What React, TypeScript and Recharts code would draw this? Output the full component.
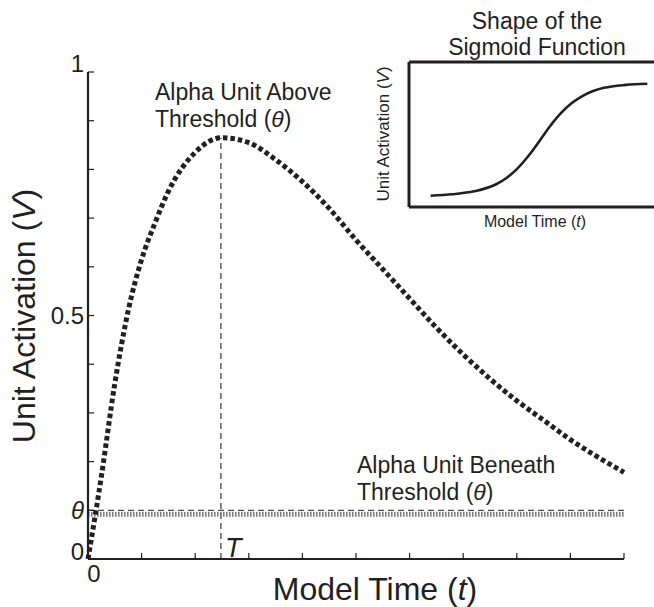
import React from "react";
import {
  ComposedChart,
  LineChart,
  Line,
  XAxis,
  YAxis,
  ReferenceLine,
} from "recharts";

const INK = "#231f20";
const FONT = "'Liberation Sans', Arial, Helvetica, sans-serif";

// main alpha-function curve
const ALPHA_T = [0, 0.25, 0.5, 0.75, 1, 1.25, 1.5, 2, 2.5, 3, 3.5, 4, 4.5, 5, 5.5, 6, 6.5, 7, 7.5, 8, 8.5, 9, 9.5, 10];
const ALPHA_V = [0, 0.17, 0.36, 0.51, 0.615, 0.69, 0.755, 0.835, 0.865, 0.855, 0.82, 0.775, 0.72, 0.655, 0.595, 0.535, 0.475, 0.42, 0.37, 0.325, 0.285, 0.245, 0.21, 0.178];
// unit that never leaves the sub-threshold level
const BENEATH_V = [0.092, 0.092, 0.092, 0.092, 0.092, 0.092, 0.092, 0.092, 0.092, 0.092, 0.092, 0.092, 0.092, 0.092, 0.092, 0.092, 0.092, 0.092, 0.092, 0.092, 0.092, 0.092, 0.092, 0.092];

const THETA = 0.1;
const PEAK_T = 2.48;
const PEAK_V = 0.865;

const X_TICKS = [0, 1, 2, 3, 4, 5, 6, 7, 8, 9, 10];
const Y_TICKS = [0, 0.1, 0.2, 0.3, 0.4, 0.5, 0.6, 0.7, 0.8, 0.9, 1];

// inset sigmoid
const SIG_T = [1, 2, 3, 4, 4.5, 5, 5.5, 6, 6.5, 7, 7.5, 8, 8.5, 9, 10, 11];
const SIG_V = [0.078, 0.088, 0.108, 0.155, 0.2, 0.265, 0.35, 0.45, 0.555, 0.645, 0.715, 0.765, 0.8, 0.822, 0.842, 0.85];

const mainData = ALPHA_T.map((t, i) => ({ t, v: ALPHA_V[i], b: BENEATH_V[i] }));
const sigData = SIG_T.map((t, i) => ({ t, v: SIG_V[i] }));

const YTick = (props: any) => {
  const { x, y, payload } = props;
  const v = payload.value;
  let label: React.ReactNode = null;
  let dy = "0.35em";
  if (v === 1) {
    label = "1";
    dy = "0";
  } else if (v === 0.5) label = "0.5";
  else if (v === 0) {
    label = "0";
    dy = "0.05em";
  } else if (v === THETA) label = <tspan fontStyle="italic">θ</tspan>;
  return (
    <g>
      <line x1={x} x2={x + 6} y1={y} y2={y} stroke={INK} strokeWidth={1.2} />
      {label !== null && (
        <text x={x - 4} y={y} dy={dy} textAnchor="end" fontSize={24} fill={INK} fontFamily={FONT}>
          {label}
        </text>
      )}
    </g>
  );
};

const XTick = (props: any) => {
  const { x, y, payload } = props;
  return (
    <g>
      <line x1={x} x2={x} y1={y} y2={y - 6} stroke={INK} strokeWidth={1.2} />
      {payload.value === 0 && (
        <text x={x + 6} y={y + 23} textAnchor="middle" fontSize={24} fill={INK} fontFamily={FONT}>
          0
        </text>
      )}
    </g>
  );
};

const TLabel = (props: any) => {
  const vb = props.viewBox || {};
  return (
    <text
      x={vb.x + 4}
      y={vb.y + vb.height - 2}
      fontSize={27}
      fontStyle="italic"
      fill={INK}
      fontFamily={FONT}
    >
      T
    </text>
  );
};

export default function App() {
  return (
    <div
      style={{
        position: "absolute",
        left: 0,
        top: 0,
        width: 654,
        height: 607,
        overflow: "hidden",
        background: "#fff",
        fontFamily: FONT,
      }}
    >
      <div style={{ position: "absolute", left: 0, top: 0 }}>
        <ComposedChart
          width={654}
          height={607}
          data={mainData}
          margin={{ top: 72, right: 30, bottom: 47, left: 87 }}
        >
          <XAxis
            dataKey="t"
            type="number"
            domain={[0, 10]}
            ticks={X_TICKS}
            height={1}
            tickSize={0}
            tickMargin={0}
            tickLine={false}
            axisLine={{ stroke: INK, strokeWidth: 2.2 }}
            tick={<XTick />}
            interval={0}
          />
          <YAxis
            type="number"
            domain={[0, 1]}
            ticks={Y_TICKS}
            width={1}
            tickSize={0}
            tickMargin={0}
            tickLine={false}
            axisLine={{ stroke: INK, strokeWidth: 2.2 }}
            tick={<YTick />}
            interval={0}
          />
          <ReferenceLine y={THETA} stroke={INK} strokeWidth={1} strokeDasharray="6 4" />
          <ReferenceLine
            segment={[
              { x: PEAK_T, y: 0 },
              { x: PEAK_T, y: PEAK_V },
            ]}
            stroke={INK}
            strokeWidth={1.1}
            strokeDasharray="6 4"
            label={<TLabel />}
          />
          <Line
            dataKey="b"
            type="linear"
            stroke="#7d7d7d"
            strokeWidth={5}
            strokeDasharray="1.6 1.4"
            dot={false}
            activeDot={false}
            isAnimationActive={false}
          />
          <Line
            dataKey="v"
            type="monotone"
            stroke={INK}
            strokeWidth={5}
            strokeDasharray="4.5 3"
            dot={false}
            activeDot={false}
            isAnimationActive={false}
          />
        </ComposedChart>
      </div>

      <div style={{ position: "absolute", left: 0, top: 0 }}>
        <LineChart
          width={680}
          height={240}
          data={sigData}
          margin={{ top: 61, right: 11, bottom: 32, left: 408 }}
        >
          <XAxis
            dataKey="t"
            type="number"
            domain={[0, 12]}
            height={1}
            tick={false}
            tickLine={false}
            axisLine={{ stroke: INK, strokeWidth: 3 }}
          />
          <XAxis
            xAxisId="top"
            orientation="top"
            dataKey="t"
            type="number"
            domain={[0, 12]}
            height={1}
            tick={false}
            tickLine={false}
            axisLine={{ stroke: INK, strokeWidth: 3 }}
          />
          <YAxis
            type="number"
            domain={[0, 1]}
            width={1}
            tick={false}
            tickLine={false}
            axisLine={{ stroke: INK, strokeWidth: 3 }}
          />
          <Line
            dataKey="v"
            type="monotone"
            stroke={INK}
            strokeWidth={2.6}
            dot={false}
            activeDot={false}
            isAnimationActive={false}
          />
        </LineChart>
      </div>

      <svg
        width={654}
        height={607}
        style={{ position: "absolute", left: 0, top: 0, pointerEvents: "none" }}
        fontFamily={FONT}
        fill={INK}
      >
        <text x={155} y={100} fontSize={23}>Alpha Unit Above</text>
        <text x={155} y={127} fontSize={23}>
          Threshold (<tspan fontStyle="italic">θ</tspan>)
        </text>
        <text x={357} y={473} fontSize={23}>Alpha Unit Beneath</text>
        <text x={357} y={500} fontSize={23}>
          Threshold (<tspan fontStyle="italic">θ</tspan>)
        </text>
        <text x={375} y={600} fontSize={32} textAnchor="middle">
          Model Time (<tspan fontStyle="italic">t</tspan>)
        </text>
        <text x={35} y={316} fontSize={32} textAnchor="middle" transform="rotate(-90 35 316)">
          Unit Activation (<tspan fontStyle="italic">V</tspan>)
        </text>
        <text x={537} y={29} fontSize={23} textAnchor="middle">Shape of the</text>
        <text x={537} y={55} fontSize={23} textAnchor="middle">Sigmoid Function</text>
        <text x={535} y={227} fontSize={16} textAnchor="middle">
          Model Time (<tspan fontStyle="italic">t</tspan>)
        </text>
        <text x={389} y={134} fontSize={17} textAnchor="middle" transform="rotate(-90 389 134)">
          Unit Activation (<tspan fontStyle="italic">V</tspan>)
        </text>
      </svg>
    </div>
  );
}
